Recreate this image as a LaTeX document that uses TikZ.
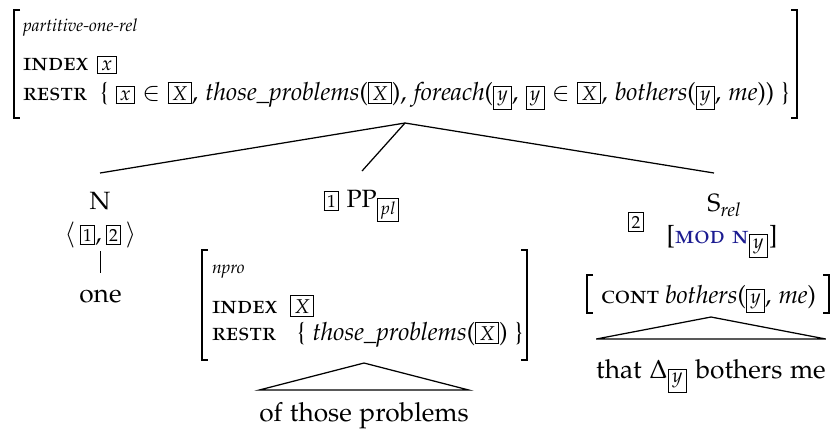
\documentclass[tikz,border=0pt]{standalone}
\usepackage[T1]{fontenc}
\usepackage[sc]{mathpazo}
\definecolor{avmblue}{RGB}{28,28,145}
% boxed tags: letters (indices), numbers, and subscript sorts
\newcommand\bx[1]{{\setlength\fboxsep{1.3pt}\fbox{\footnotesize$#1$}}}
\newcommand\nbx[1]{{\setlength\fboxsep{1pt}\fbox{\scriptsize #1}}}
\newcommand\sbx[1]{{\setlength\fboxsep{0.9pt}\fbox{\scriptsize$#1$}}}
\begin{document}
\begin{tikzpicture}[x=0.4pt,y=-0.4pt,
  every node/.style={inner sep=0pt, outer sep=0pt},
  brk/.style={line width=0.8pt},
  edge/.style={line width=0.5pt},
  feat/.style={anchor=base west},
  sort/.style={anchor=base west, font=\scriptsize\itshape},
  cat/.style={anchor=base, text height=14.4pt},
  leaf/.style={anchor=base, font=\fontsize{10.5pt}{12pt}\selectfont},
]
\useasboundingbox (0,0) rectangle (837,429);

% mother AVM
\draw[brk] (20,10) -- (14,10) -- (14,118) -- (20,118);
\draw[brk] (791,10) -- (797,10) -- (797,118) -- (791,118);
\node[sort] (topsort) at (23,31) {partitive-one-rel};
\node[feat] (topidx) at (23,70) {\textsc{index}};
\node[feat] (topidxv) at (97,70) {\bx{x}};
\node[feat] (toprs) at (23,100) {\textsc{restr}};
\node[feat] (toprsv) at (100,100) {\{\ \bx{x} $\in$ \bx{X}, \textit{those\_problems}(\bx{X}), \textit{foreach}(\bx{y}, \bx{y} $\in$ \bx{X}, \textit{bothers}(\bx{y}, \textit{me})) \}};
\coordinate (tip) at (405,123);

% daughters
\node[cat] (N) at (100,209) {N};
\node[cat] (PP) at (362,207) {\nbx{1} PP$_{\sbx{pl}}$};
\node[cat, text height=15.2pt] (S) at (714,211) {S\rlap{$_{\mathit{rel}}$}};
\draw[edge] (tip) -- (N.north);
\draw[edge] (tip) -- (PP.north);
\draw[edge] (tip) -- (S.north);

% N
\node[anchor=base, text depth=4pt] (Nval) at (100.5,241) {$\langle\,\nbx{1},\nbx{2}\,\rangle$};
\node[leaf, text height=11.6pt] (one) at (100.5,302) {one};
\draw[edge] (Nval.south) -- (one.north);

% PP
\draw[brk] (208,250) -- (202,250) -- (202,360) -- (208,360);
\draw[brk] (521,250) -- (527,250) -- (527,360) -- (521,360);
\node[sort] (nprosort) at (212,273) {npro};
\node[feat] (nproidx) at (212,313) {\textsc{index}};
\node[feat] (nproidxv) at (290,313) {\bx{X}};
\node[feat] (nprors) at (212,340) {\textsc{restr}};
\node[feat] (nprorsv) at (297,340) {\{\ \textit{those\_problems}(\bx{X}) \}};
\coordinate (nprotip) at (364,363);
\node[leaf, text height=12.4pt] (otp) at (364,421) {of those problems};
\draw[edge] (nprotip) -- (otp.north west) -- (otp.north east) -- cycle;

% S
\node (tag2) at (636,222) {\nbx{2}};
\node[anchor=base] (mod) at (722,243) {[\textcolor{avmblue}{\textsc{mod n}}$_{\bx{y}}$]};
\draw[brk] (593,275) -- (587,275) -- (587,313) -- (593,313);
\draw[brk] (823,275) -- (829,275) -- (829,313) -- (823,313);
\node[feat] (cont) at (601,303) {\textsc{cont}};
\node[feat] (contv) at (665,303) {\textit{bothers}(\bx{y}, \textit{me})};
\coordinate (conttip) at (711,317);
\node[leaf, text height=15.6pt] (that) at (711,378) {that $\Delta_{\bx{y}}$ bothers me};
\draw[edge] (conttip) -- (that.north west) -- (that.north east) -- cycle;
\end{tikzpicture}
\end{document}
